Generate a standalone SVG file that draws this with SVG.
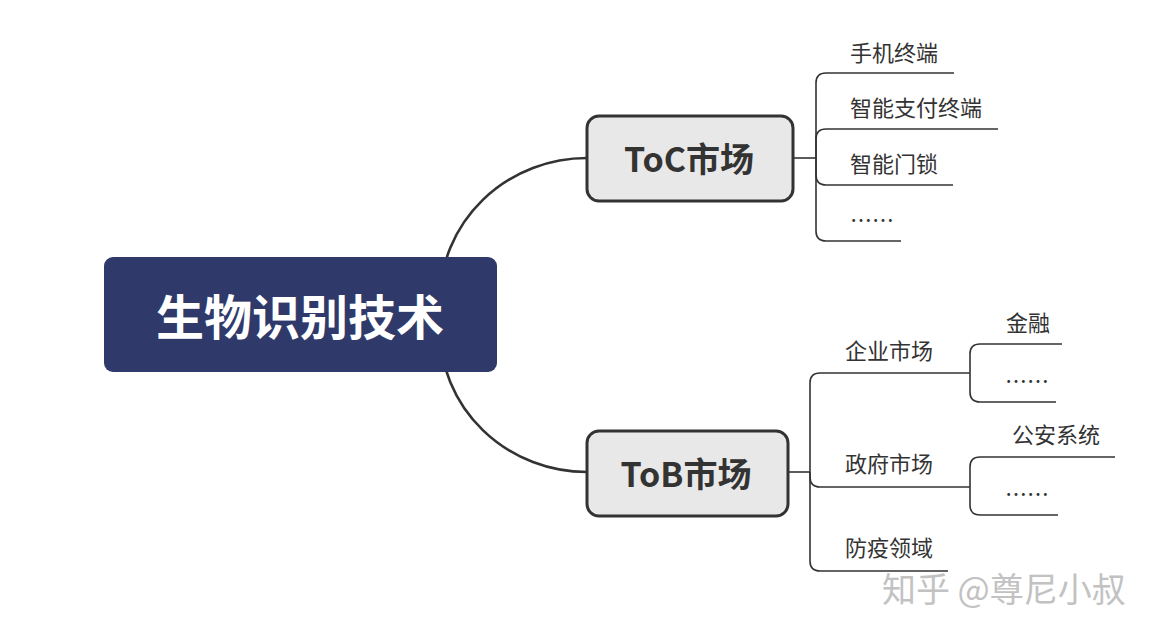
<svg xmlns="http://www.w3.org/2000/svg" width="1159" height="637" viewBox="0 0 1159 637">
<style>
.main{fill:none;stroke:#333;stroke-width:2.6}
.br{fill:none;stroke:#333;stroke-width:1.6}
.t{font-family:"Noto Sans CJK SC","Noto Sans",sans-serif;fill:#333;font-size:22px}
.sub{font-family:"Noto Sans CJK SC","Noto Sans",sans-serif;fill:#333;font-size:34px;font-weight:bold;text-anchor:middle;dominant-baseline:central}
.box{fill:#e8e8e8;stroke:#333;stroke-width:3}
</style>
<rect width="1159" height="637" fill="#fff"/>
<g id="connectors">
<path class="main" d="M440,300 A147 142 0 0 1 587,158"/>
<path class="main" d="M440,330 A147 142 0 0 0 587,472"/>
<path class="br" d="M793,158 H816"/>
<path class="br" d="M816,158 V83 Q816,73 826,73 H954"/>
<path class="br" d="M816,158 V139 Q816,129 826,129 H998"/>
<path class="br" d="M816,158 V175 Q816,185 826,185 H953"/>
<path class="br" d="M816,158 V231 Q816,241 826,241 H901"/>
<path class="br" d="M788,472 H810"/>
<path class="br" d="M810,472 V383 Q810,373 820,373 H970"/>
<path class="br" d="M810,472 V477 Q810,487 820,487 H970"/>
<path class="br" d="M810,472 V561 Q810,571 820,571 H948"/>
<path class="br" d="M970,373 V354 Q970,344 980,344 H1062"/>
<path class="br" d="M970,373 V392 Q970,402 980,402 H1056"/>
<path class="br" d="M970,487 V467 Q970,457 980,457 H1115"/>
<path class="br" d="M970,487 V505 Q970,515 980,515 H1058"/>
</g>
<g id="root">
<rect x="104" y="257" width="393" height="115" rx="9" fill="#2f3a6b"/>
<text x="300" y="314" font-family="Noto Sans CJK SC,sans-serif" font-size="48" font-weight="bold" fill="#fff" text-anchor="middle" dominant-baseline="central">生物识别技术</text>
</g>
<g id="toc">
<rect class="box" x="587" y="116" width="206" height="85" rx="12"/>
<text class="sub" x="689" y="157">ToC市场</text>
</g>
<g id="tob">
<rect class="box" x="587" y="431" width="201" height="85" rx="12"/>
<text class="sub" x="686" y="472">ToB市场</text>
</g>
<g id="toc-children">
<text class="t" x="850" y="61">手机终端</text>
<text class="t" x="850" y="116">智能支付终端</text>
<text class="t" x="850" y="172">智能门锁</text>
<text class="t" x="850" y="228">……</text>
</g>
<g id="tob-children">
<text class="t" x="845" y="359">企业市场</text>
<text class="t" x="845" y="472">政府市场</text>
<text class="t" x="845" y="556">防疫领域</text>
<text class="t" x="1006" y="331">金融</text>
<text class="t" x="1005" y="389">……</text>
<text class="t" x="1012" y="443">公安系统</text>
<text class="t" x="1005" y="502">……</text>
</g>
<text x="882" y="602" font-family="Noto Sans CJK SC,sans-serif" font-size="34" fill="#c2c2c2">知乎 @尊尼小叔</text>
</svg>
